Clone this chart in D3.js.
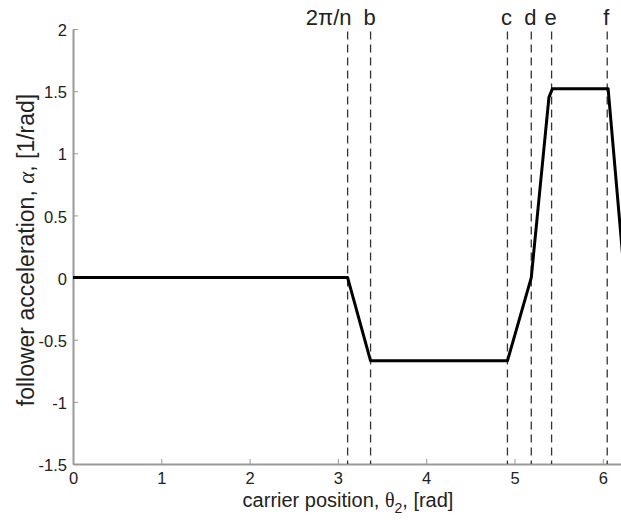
<!DOCTYPE html>
<html>
<head>
<meta charset="utf-8">
<script src="https://cdn.jsdelivr.net/npm/d3@7"></script>
<style>
  body { margin: 0; background: #fff; }
  svg { display: block; font-family: "Liberation Sans", Arial, sans-serif; }
</style>
</head>
<body>
<div id="chart"></div>
<script>
// carrier position (rad) and follower acceleration (1/rad)
const theta = [0, 3.11, 3.37, 4.92, 5.19, 5.39, 5.43, 6.06, 2 * Math.PI];
const alpha = [0, 0, -0.67, -0.67, 0, 1.45, 1.52, 1.52, -0.3];

// event lines and their labels
const markNames = ["2π/n", "b", "c", "d", "e", "f"];
const markPos = [3.11, 3.37, 4.92, 5.19, 5.42, 6.05];

const xTicks = [0, 1, 2, 3, 4, 5, 6];
const yTicks = [-1.5, -1, -0.5, 0, 0.5, 1, 1.5, 2];

const W = 621, H = 521;
const mLeft = 73, mTop = 29, mBottom = 464;
const mRight = mLeft + 2 * Math.PI * 88.3; // plot runs past the picture edge

const svg = d3.select("#chart").append("svg")
  .attr("width", W)
  .attr("height", H);

const x = d3.scaleLinear().domain([0, 2 * Math.PI]).range([mLeft, mRight]);
const y = d3.scaleLinear().domain([-1.5, 2]).range([mBottom, mTop]);

// axes, ticks pointing inward
const xAxis = svg.append("g")
  .attr("transform", `translate(0,${mBottom})`)
  .call(d3.axisBottom(x).tickValues(xTicks).tickSizeInner(-5).tickSizeOuter(0).tickPadding(8).tickFormat(d3.format("d")));

const yAxis = svg.append("g")
  .attr("transform", `translate(${mLeft},0)`)
  .call(d3.axisLeft(y).tickValues(yTicks).tickSizeInner(-5).tickSizeOuter(0).tickPadding(6).tickFormat(d => d));

[xAxis, yAxis].forEach(g => {
  g.select(".domain").attr("stroke", "#999").attr("stroke-width", 2);
  g.selectAll(".tick line").attr("stroke", "#999").attr("stroke-width", 1);
  g.selectAll(".tick text")
    .attr("fill", "#222")
    .style("font-size", "16.5px")
    .style("font-family", "'Liberation Sans', Arial, sans-serif");
});
yAxis.selectAll(".tick text").attr("dy", "0.4em");

// dashed event lines
svg.append("g").selectAll("line")
  .data(markPos)
  .enter()
  .append("line")
  .attr("x1", d => x(d))
  .attr("x2", d => x(d))
  .attr("y1", y(1.98))
  .attr("y2", mBottom)
  .attr("stroke", "#333")
  .attr("stroke-width", 1.3)
  .attr("stroke-dasharray", "8,5");

// labels over the lines; the first one sits to the left of its line
svg.append("g").selectAll("text")
  .data(markNames)
  .enter()
  .append("text")
  .attr("x", (d, i) => x(markPos[i]) + (i === 0 ? 4 : -1))
  .attr("y", 25)
  .attr("text-anchor", (d, i) => i === 0 ? "end" : "middle")
  .attr("fill", "#222")
  .style("font-size", "22px")
  .text(d => d);

// acceleration curve
const line = d3.line()
  .x((d, i) => x(theta[i]))
  .y(d => y(d));

svg.append("path")
  .datum(alpha)
  .attr("fill", "none")
  .attr("stroke", "#000")
  .attr("stroke-width", 3)
  .attr("stroke-linejoin", "round")
  .attr("d", line);

// axis titles
const xLab = svg.append("text")
  .attr("x", 348)
  .attr("y", 507)
  .attr("text-anchor", "middle")
  .attr("fill", "#222")
  .style("font-size", "20px");
xLab.append("tspan").text("carrier position, ");
xLab.append("tspan").style("font-family", "'Liberation Serif', serif").text("θ");
xLab.append("tspan").attr("dy", 6).style("font-size", "14px").text("2");
xLab.append("tspan").attr("dy", -6).text(", [rad]");

const yLab = svg.append("text")
  .attr("transform", "translate(34,250) rotate(-90)")
  .attr("text-anchor", "middle")
  .attr("fill", "#222")
  .style("font-size", "23px");
yLab.append("tspan").text("follower acceleration, ");
yLab.append("tspan").style("font-family", "'Liberation Serif', serif").style("font-style", "italic").text("α");
yLab.append("tspan").text(", [1/rad]");
</script>
</body>
</html>
